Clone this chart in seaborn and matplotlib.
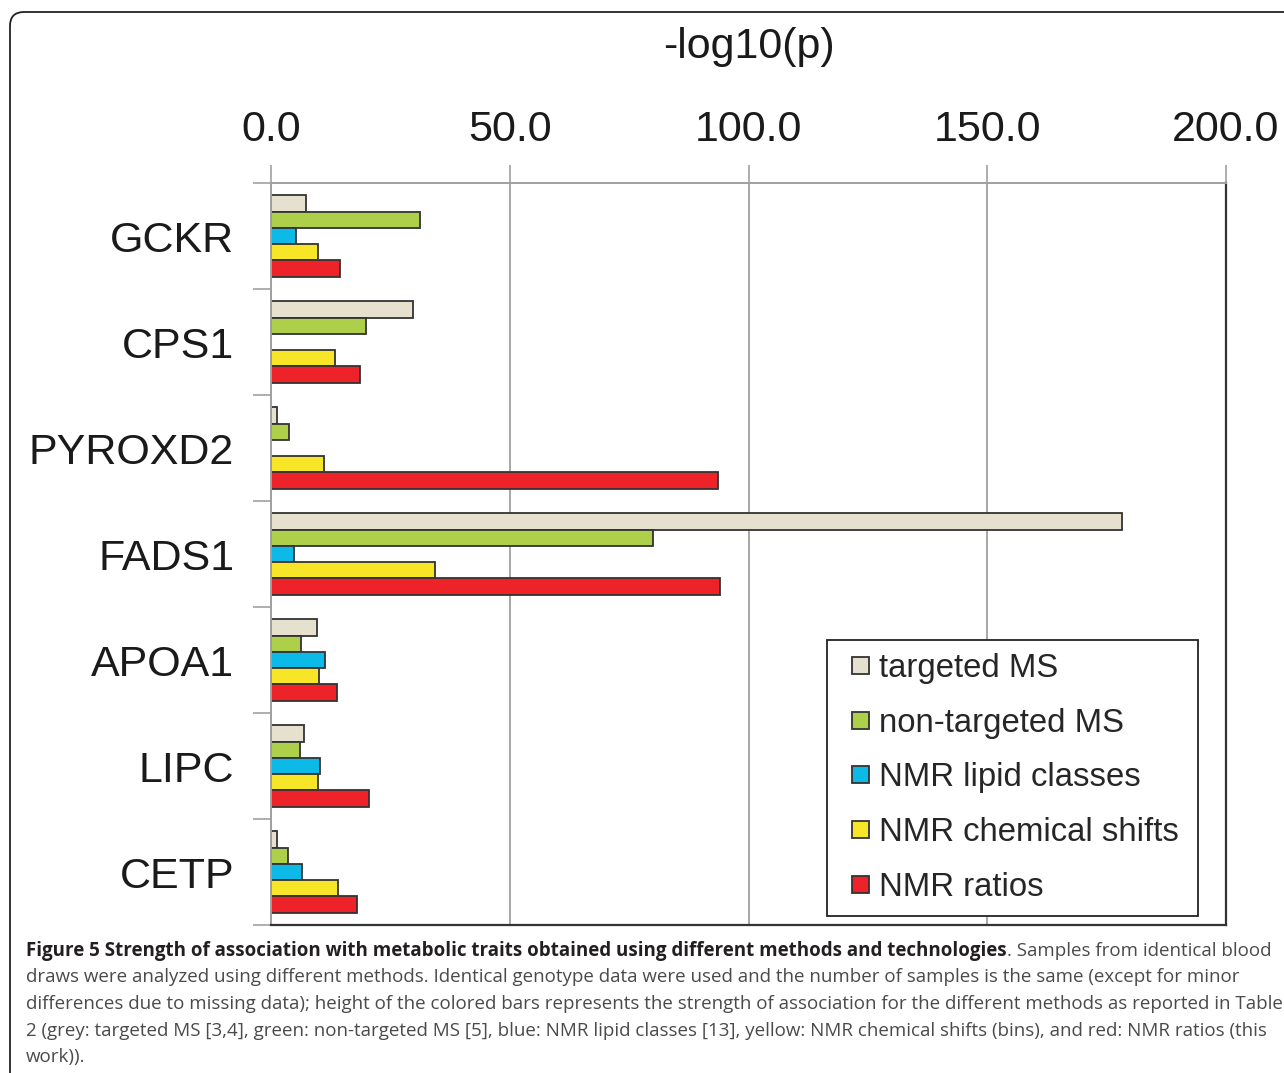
import matplotlib
matplotlib.use("Agg")
import matplotlib.pyplot as plt
from matplotlib.patches import FancyBboxPatch, Rectangle
from matplotlib.transforms import IdentityTransform
from matplotlib.legend_handler import HandlerPatch
import numpy as np
import pandas as pd
import seaborn as sns

genes = ["GCKR", "CPS1", "PYROXD2", "FADS1", "APOA1", "LIPC", "CETP"]
methods = ["targeted MS", "non-targeted MS", "NMR lipid classes",
           "NMR chemical shifts", "NMR ratios"]
targeted_ms = [7.4, 29.7, 1.2, 178.3, 9.7, 7.0, 1.3]
non_targeted_ms = [31.3, 19.9, 3.7, 79.9, 6.3, 6.0, 3.5]
nmr_lipid_classes = [5.3, np.nan, np.nan, 4.8, 11.4, 10.3, 6.4]
nmr_chemical_shifts = [9.9, 13.3, 11.1, 34.3, 10.1, 9.9, 14.1]
nmr_ratios = [14.5, 18.7, 93.6, 94.0, 13.8, 20.6, 18.0]
x_ticks = [0, 50, 100, 150, 200]
x_tick_labels = ["0.0", "50.0", "100.0", "150.0", "200.0"]
colors = ["#E6E0CF", "#AECF4A", "#0DB9E6", "#F7E628", "#EE2229"]

caption_bold = ("Figure 5 Strength of association with metabolic traits "
                "obtained using different methods and technologies")
caption_lines = [
    ". Samples from identical blood",
    "draws were analyzed using different methods. Identical genotype data were used "
    "and the number of samples is the same (except for minor",
    "differences due to missing data); height of the colored bars represents the "
    "strength of association for the different methods as reported in Table",
    "2 (grey: targeted MS [3,4], green: non-targeted MS [5], blue: NMR lipid classes "
    "[13], yellow: NMR chemical shifts (bins), and red: NMR ratios (this",
    "work)).",
]

series = [targeted_ms, non_targeted_ms, nmr_lipid_classes,
          nmr_chemical_shifts, nmr_ratios]
df = pd.DataFrame({
    "gene": np.tile(genes, len(methods)),
    "method": np.repeat(methods, len(genes)),
    "value": np.concatenate(series),
})

sns.set_theme(style="white")
plt.rcParams["font.family"] = ["Liberation Sans", "DejaVu Sans"]

W, H = 1284, 1073
fig = plt.figure(figsize=(W / 100, H / 100), dpi=100)
ax = fig.add_axes([271 / W, 1 - 925 / H, (1226 - 271) / W, (925 - 183) / H])

sns.barplot(data=df, y="gene", x="value", hue="method", order=genes,
            hue_order=methods, palette=colors, orient="h", width=0.77,
            edgecolor="#333333", linewidth=1.3, saturation=1, ax=ax,
            legend=True)

ax.set_xlim(0, 200)
ax.set_ylim(len(genes) - 0.5, -0.5)
ax.set_axisbelow(True)

# value axis on top
ax.xaxis.tick_top()
ax.xaxis.set_label_position("top")
ax.set_xticks(x_ticks)
ax.set_xticklabels(x_tick_labels, fontsize=31, color="#1a1a1a")
ax.tick_params(axis="x", which="major", direction="out", length=13, width=1.3,
               color="#a8a8a8", pad=10.6)
ax.set_xlabel("-log10(p)", fontsize=31, color="#1a1a1a", labelpad=37.5)
ax.grid(axis="x", color="#a6a6a6", linewidth=1.4)
ax.grid(axis="y", visible=False)

# category labels with separator ticks between groups
ax.set_ylabel("")
ax.set_yticks(range(len(genes)))
ax.set_yticklabels(genes, fontsize=31, color="#1a1a1a")
ax.tick_params(axis="y", which="major", length=0, pad=26.5)
ax.set_yticks(np.arange(-0.5, len(genes)), minor=True)
ax.tick_params(axis="y", which="minor", direction="out", length=13, width=1.3,
               color="#a8a8a8", left=True)

for side in ["top", "left"]:
    ax.spines[side].set_color("#a0a0a0")
    ax.spines[side].set_linewidth(1.4)
for side in ["bottom", "right"]:
    ax.spines[side].set_color("#333333")
    ax.spines[side].set_linewidth(1.6)


def square_patch(legend, orig_handle, xdescent, ydescent, width, height, fontsize):
    # small square sitting at the right end of the handle box
    s = 12.2
    return Rectangle((width - xdescent - s, -ydescent + (height - s) / 2), s, s)


handles, labels = ax.get_legend_handles_labels()
leg = ax.legend(handles, labels, loc="lower left",
                bbox_to_anchor=((827 - 271) / 955, (925 - 916) / 742,
                                (1198 - 827) / 955, 0.0),
                mode="expand", borderaxespad=0, fontsize=23.7, frameon=True,
                fancybox=False, edgecolor="#222222", framealpha=1,
                handlelength=0.87, handleheight=0.7, handletextpad=0.3,
                labelspacing=0.72, borderpad=0.4,
                handler_map={h: HandlerPatch(patch_func=square_patch)
                             for h in handles})
leg.get_frame().set_linewidth(1.3)

# figure frame with rounded corner
frame = FancyBboxPatch((10, -30), W + 40, H - 12 + 30,
                       boxstyle="round,pad=0,rounding_size=14",
                       transform=IdentityTransform(), facecolor="none",
                       edgecolor="#222222", linewidth=1.3)
fig.add_artist(frame)

# caption: bold title followed by regular text
cap_font = ["Open Sans", "DejaVu Sans"]
cap_size = 13.5
x0 = 26 / W
y_first = 1 - 951 / H
line_step = 26.5 / H
t_bold = fig.text(x0, y_first, caption_bold, fontsize=cap_size, family=cap_font,
                  fontweight="bold", color="#231F20", va="center", ha="left")
fig.canvas.draw()
bb = t_bold.get_window_extent(renderer=fig.canvas.get_renderer())
fig.text(bb.x1 / W, y_first, caption_lines[0], fontsize=cap_size, family=cap_font,
         color="#4a4a4a", va="center", ha="left")
for i, line in enumerate(caption_lines[1:], start=1):
    fig.text(x0, y_first - i * line_step, line, fontsize=cap_size, family=cap_font,
             color="#4a4a4a", va="center", ha="left")

fig.savefig("out.png", dpi=100)
